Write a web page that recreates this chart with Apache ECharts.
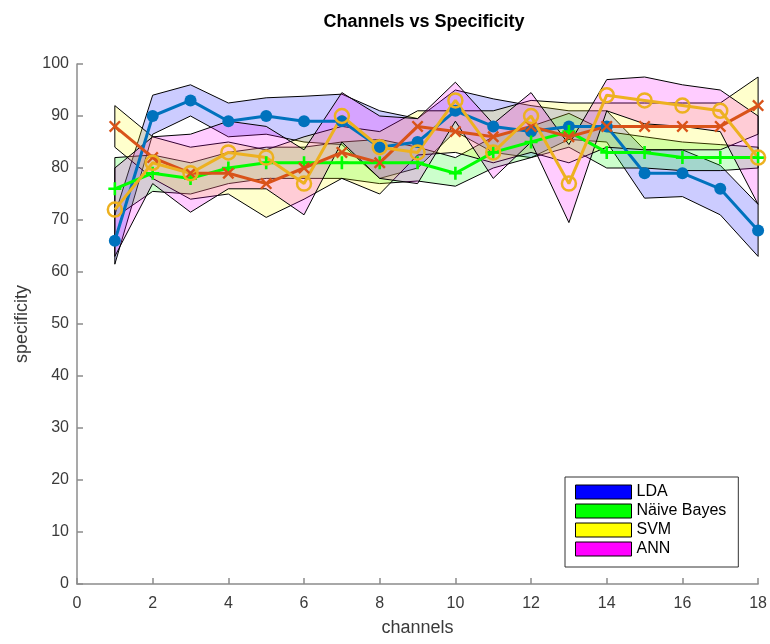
<!DOCTYPE html>
<html>
<head>
<meta charset="utf-8">
<script src="https://cdn.jsdelivr.net/npm/echarts@6/dist/echarts.min.js"></script>
<style>
  html, body { margin: 0; padding: 0; background: #fff; }
  #chart { width: 770px; height: 644px; }
</style>
</head>
<body>
<div id="chart"></div>
<script>
// Channel index on the x axis
const channels = [1, 2, 3, 4, 5, 6, 7, 8, 9, 10, 11, 12, 13, 14, 15, 16, 17, 18];

// Mean specificity per channel for each classifier
const ldaMean = [66, 90, 93, 89, 90, 89, 89, 84, 85, 91, 88, 87, 88, 88, 79, 79, 76, 68];
const nbMean  = [76, 79, 78, 80, 81, 81, 81, 81, 81, 79, 83, 85, 87, 83, 83, 82, 82, 82];
const svmMean = [88, 82, 79, 79, 77, 80, 83, 81, 88, 87, 86, 88, 86, 88, 88, 88, 88, 92];
const annMean = [72, 81, 79, 83, 82, 77, 90, 84, 83, 93, 83, 90, 77, 94, 93, 92, 91, 82];

// Spread bands (upper / lower bounds) per classifier
const ldaUpper = [71, 94, 96, 92.5, 93.5, 93.8, 94.2, 91, 89.5, 95, 93.3, 92, 91, 91, 83.5, 83.5, 80.5, 73];
const ldaLower = [61.5, 86.5, 90, 86, 86.5, 85, 84.5, 78, 80, 87, 83, 82, 85.5, 85, 74.2, 74.5, 71, 63];
const nbUpper  = [82, 82.5, 81, 83, 84, 84, 85, 85.5, 84, 82, 86, 88, 90.5, 87, 86, 85, 84.5, 84];
const nbLower  = [70.5, 75.5, 75, 77, 78, 78, 78, 77, 77.5, 76.5, 80, 82, 84, 80, 80, 79.5, 79.5, 80];
const svmUpper = [92, 86, 84, 85, 83.5, 86, 88, 87, 91, 91, 91, 93, 92.5, 92.5, 92.5, 92.5, 92.5, 97.5];
const svmLower = [84, 78, 74, 75, 70.5, 74, 78, 75, 82.5, 83, 81, 83, 81, 84, 83.5, 83.5, 83.5, 86.5];
const annUpper = [80, 86, 86.5, 89, 88, 83.5, 94.5, 90, 89.5, 96.5, 88.5, 94.5, 84.5, 97, 97.5, 96, 95, 90];
const annLower = [63, 77, 71.5, 76, 76, 71, 85, 78, 77, 89, 78, 85, 69.5, 91, 88.5, 88, 87, 73];

// Axis ticks
const xTicks = [0, 2, 4, 6, 8, 10, 12, 14, 16, 18];
const yTicks = [0, 10, 20, 30, 40, 50, 60, 70, 80, 90, 100];

const classNames = ['LDA', 'N\u00e4ive Bayes', 'SVM', 'ANN'];
const solidColors = ['#0000FF', '#00FF00', '#FFFF00', '#FF00FF'];
const bandFills = ['rgba(0,0,255,0.2)', 'rgba(0,255,0,0.2)', 'rgba(255,255,0,0.2)', 'rgba(255,0,255,0.2)'];
const bands = [[ldaUpper, ldaLower], [nbUpper, nbLower], [svmUpper, svmLower], [annUpper, annLower]];

const FONT = '"Liberation Sans", Arial, Helvetica, sans-serif';
const AXIS_GREY = '#8c8c8c';
const TEXT_GREY = '#3a3a3a';

// Shaded polygon between the upper and lower bound of one classifier
function bandSeries(idx) {
  const upper = bands[idx][0];
  const lower = bands[idx][1];
  return {
    name: classNames[idx],
    type: 'custom',
    coordinateSystem: 'cartesian2d',
    z: 1,
    silent: true,
    itemStyle: { color: solidColors[idx], borderColor: '#000', borderWidth: 1 },
    data: [[channels[0], lower[0]]],
    renderItem: function (params, api) {
      const pts = [];
      for (let i = 0; i < channels.length; i++) pts.push(api.coord([channels[i], upper[i]]));
      for (let i = channels.length - 1; i >= 0; i--) pts.push(api.coord([channels[i], lower[i]]));
      return {
        type: 'polygon',
        shape: { points: pts },
        style: { fill: bandFills[idx], stroke: '#000', lineWidth: 1 }
      };
    }
  };
}

const plusPath = 'path://M4,0H6V4H10V6H6V10H4V6H0V4H4Z';
const crossPath = 'path://M1.4,0L5,3.6L8.6,0L10,1.4L6.4,5L10,8.6L8.6,10L5,6.4L1.4,10L0,8.6L3.6,5L0,1.4Z';

function lineSeries(id, values, color, symbol, size, hollow) {
  return {
    id: id,
    type: 'line',
    z: 5,
    silent: true,
    data: channels.map((c, i) => [c, values[i]]),
    lineStyle: { color: color, width: 3 },
    symbol: symbol,
    symbolSize: size,
    showAllSymbol: true,
    itemStyle: hollow
      ? { color: 'rgba(0,0,0,0)', borderColor: color, borderWidth: 2.5, opacity: 1 }
      : { color: color, borderWidth: 0 },
    emphasis: { disabled: true },
    animation: false
  };
}

const chart = echarts.init(document.getElementById('chart'), null, { renderer: 'canvas' });

chart.setOption({
  animation: false,
  backgroundColor: '#fff',
  title: {
    text: 'Channels vs Specificity',
    left: 419,
    textAlign: 'center',
    top: 8,
    textStyle: { fontFamily: FONT, fontWeight: 'bold', fontSize: 18, color: '#000' }
  },
  grid: { left: 77, right: 9, top: 64, bottom: 60, containLabel: false },
  legend: {
    orient: 'vertical',
    left: 565,
    top: 477,
    data: classNames.map((n, i) => ({
      name: n,
      icon: 'rect',
      itemStyle: { color: solidColors[i], borderColor: '#000', borderWidth: 1 }
    })),
    itemWidth: 56,
    itemHeight: 14,
    itemGap: 3,
    padding: [7, 12, 10, 10],
    backgroundColor: '#fff',
    borderColor: '#333',
    borderWidth: 1,
    selectedMode: false,
    textStyle: { fontFamily: FONT, fontSize: 16, color: '#000' }
  },
  xAxis: {
    type: 'value',
    min: xTicks[0],
    max: xTicks[xTicks.length - 1],
    interval: xTicks[1] - xTicks[0],
    name: 'channels',
    nameLocation: 'middle',
    nameGap: 35,
    nameTextStyle: { fontFamily: FONT, fontSize: 18, color: TEXT_GREY },
    axisLine: { lineStyle: { color: AXIS_GREY, width: 1.5 } },
    axisTick: { inside: true, length: 6, lineStyle: { color: AXIS_GREY, width: 1.5 } },
    axisLabel: { fontFamily: FONT, fontSize: 16, color: TEXT_GREY, margin: 12 },
    splitLine: { show: false }
  },
  yAxis: {
    type: 'value',
    min: yTicks[0],
    max: yTicks[yTicks.length - 1],
    interval: yTicks[1] - yTicks[0],
    name: 'specificity',
    nameLocation: 'middle',
    nameGap: 45,
    nameTextStyle: { fontFamily: FONT, fontSize: 18, color: TEXT_GREY },
    axisLine: { show: true, lineStyle: { color: AXIS_GREY, width: 1.5 } },
    axisTick: { show: true, inside: true, length: 6, lineStyle: { color: AXIS_GREY, width: 1.5 } },
    axisLabel: { fontFamily: FONT, fontSize: 16, color: TEXT_GREY, margin: 8 },
    splitLine: { show: false }
  },
  series: [
    bandSeries(0),
    bandSeries(1),
    bandSeries(2),
    bandSeries(3),
    lineSeries('ldaLine', ldaMean, '#0072BD', 'circle', 12, false),
    lineSeries('nbLine', nbMean, '#00FF00', plusPath, 13, false),
    lineSeries('svmLine', svmMean, '#D95319', crossPath, 12, false),
    lineSeries('annLine', annMean, '#EDB120', 'circle', 14, true)
  ]
});
</script>
</body>
</html>
